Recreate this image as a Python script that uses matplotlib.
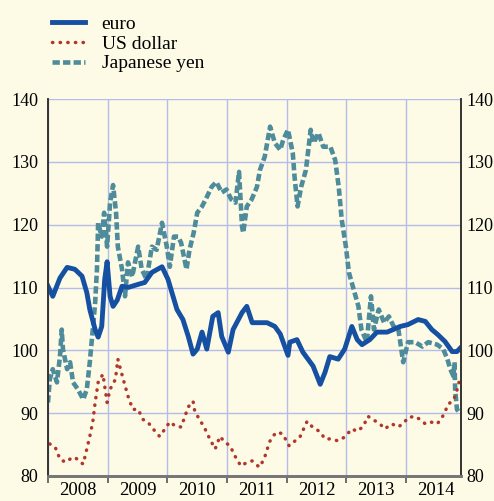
import matplotlib.pyplot as plt

# effective exchange rates, index
euro_t = [2008.00, 2008.08, 2008.20, 2008.32, 2008.45, 2008.57, 2008.65, 2008.70, 2008.79,
          2008.84, 2008.90, 2008.95, 2008.99, 2009.04, 2009.09, 2009.16, 2009.24, 2009.34,
          2009.51, 2009.62, 2009.74, 2009.91, 2010.01, 2010.16, 2010.26, 2010.35, 2010.43,
          2010.50, 2010.58, 2010.66, 2010.76, 2010.85, 2010.91, 2011.02, 2011.10, 2011.25,
          2011.33, 2011.42, 2011.52, 2011.67, 2011.80, 2011.89, 2012.02, 2012.05, 2012.17,
          2012.27, 2012.44, 2012.56, 2012.64, 2012.72, 2012.86, 2012.97, 2013.09, 2013.18,
          2013.26, 2013.39, 2013.51, 2013.68, 2013.78, 2013.90, 2014.03, 2014.20, 2014.32,
          2014.43, 2014.53, 2014.65, 2014.77, 2014.85, 2014.90]
euro_v = [110.2, 108.6, 111.5, 113.2, 112.9, 111.8, 109.2, 106.5, 103.3,
          102.1, 103.8, 111.3, 114.1, 108.6, 107.0, 108.0, 110.2, 110.0,
          110.5, 110.8, 112.4, 113.3, 111.3, 106.5, 104.9, 102.2, 99.4,
          100.2, 102.9, 100.2, 105.4, 106.0, 102.2, 99.7, 103.3, 106.0,
          107.0, 104.4, 104.4, 104.4, 103.8, 102.6, 99.2, 101.3, 101.7,
          99.7, 97.5, 94.6, 96.5, 99.0, 98.6, 100.2, 103.8, 101.7,
          100.9, 101.7, 102.9, 102.9, 103.3, 103.8, 104.1, 104.9, 104.6,
          103.3, 102.5, 101.4, 99.8, 99.8, 100.3]

usd_t = [2008.03, 2008.12, 2008.20, 2008.29, 2008.37, 2008.45, 2008.54, 2008.59, 2008.65,
         2008.70, 2008.75, 2008.79, 2008.84, 2008.92, 2008.99, 2009.04, 2009.13, 2009.17,
         2009.26, 2009.34, 2009.42, 2009.51, 2009.59, 2009.67, 2009.76, 2009.87, 2009.96,
         2010.04, 2010.14, 2010.23, 2010.35, 2010.43, 2010.46, 2010.54, 2010.63, 2010.71,
         2010.80, 2010.88, 2010.96, 2011.05, 2011.13, 2011.23, 2011.34, 2011.42, 2011.54,
         2011.62, 2011.71, 2011.76, 2011.84, 2011.93, 2012.04, 2012.14, 2012.22, 2012.34,
         2012.42, 2012.56, 2012.64, 2012.72, 2012.86, 2012.97, 2013.09, 2013.18, 2013.28,
         2013.36, 2013.44, 2013.56, 2013.64, 2013.76, 2013.86, 2013.95, 2014.03, 2014.15,
         2014.23, 2014.32, 2014.41, 2014.52, 2014.60, 2014.65, 2014.70, 2014.77, 2014.82,
         2014.87, 2014.90]
usd_v = [85.1, 84.6, 82.7, 82.2, 82.7, 83.0, 82.2, 81.9, 84.3,
         86.3, 88.6, 91.7, 94.9, 96.2, 91.7, 93.8, 95.4, 98.6,
         95.4, 92.7, 90.6, 90.6, 89.0, 88.6, 87.5, 86.3, 87.5,
         88.6, 87.9, 87.8, 91.0, 91.9, 90.2, 89.0, 87.5, 85.9,
         84.3, 86.3, 85.4, 84.8, 83.2, 81.6, 82.2, 82.4, 81.4,
         82.7, 85.4, 86.3, 87.0, 86.7, 84.8, 85.6, 86.2, 88.7,
         87.9, 87.0, 85.9, 85.9, 85.6, 86.2, 87.5, 87.1, 87.9,
         89.5, 89.0, 88.3, 87.5, 88.3, 87.8, 88.3, 89.3, 89.5,
         89.0, 88.3, 88.6, 88.3, 89.3, 90.2, 91.4, 91.9, 92.7,
         94.3, 95.6]

yen_t = [2008.00, 2008.03, 2008.08, 2008.15, 2008.20, 2008.23, 2008.25, 2008.32, 2008.37,
         2008.42, 2008.50, 2008.59, 2008.65, 2008.70, 2008.75, 2008.79, 2008.82, 2008.84,
         2008.90, 2008.94, 2008.99, 2009.04, 2009.09, 2009.14, 2009.17, 2009.24, 2009.29,
         2009.34, 2009.41, 2009.51, 2009.57, 2009.65, 2009.74, 2009.82, 2009.91, 2009.99,
         2010.04, 2010.11, 2010.18, 2010.23, 2010.32, 2010.37, 2010.44, 2010.50, 2010.58,
         2010.66, 2010.74, 2010.82, 2010.91, 2010.99, 2011.07, 2011.14, 2011.20, 2011.25,
         2011.27, 2011.33, 2011.41, 2011.50, 2011.55, 2011.63, 2011.72, 2011.80, 2011.89,
         2011.94, 2012.02, 2012.10, 2012.13, 2012.18, 2012.24, 2012.32, 2012.40, 2012.45,
         2012.53, 2012.61, 2012.73, 2012.81, 2012.87, 2012.92, 2012.99, 2013.04, 2013.12,
         2013.20, 2013.25, 2013.34, 2013.41, 2013.46, 2013.54, 2013.63, 2013.71, 2013.79,
         2013.87, 2013.95, 2014.03, 2014.15, 2014.27, 2014.37, 2014.52, 2014.62, 2014.69,
         2014.74, 2014.79, 2014.81, 2014.82, 2014.85, 2014.88]
yen_v = [91.7, 95.4, 97.0, 94.9, 99.0, 103.3, 100.2, 97.0, 98.1,
         94.9, 93.8, 92.2, 93.8, 98.1, 103.3, 107.6, 112.9, 120.3,
         118.1, 121.9, 116.5, 123.5, 126.3, 121.9, 116.5, 112.9, 108.6,
         114.0, 111.7, 116.5, 112.9, 111.3, 116.5, 116.0, 120.3, 116.5,
         113.3, 118.1, 118.1, 117.1, 112.9, 116.0, 118.7, 121.9, 122.9,
         124.4, 126.0, 126.8, 125.1, 125.6, 124.0, 123.5, 128.4, 119.7,
         118.7, 122.9, 124.0, 126.0, 128.7, 130.8, 135.6, 133.0, 131.9,
         133.5, 135.1, 131.4, 127.6, 122.9, 126.0, 128.7, 135.1, 133.0,
         134.6, 132.4, 132.4, 130.3, 126.0, 120.8, 116.5, 112.4, 109.7,
         107.0, 103.3, 101.3, 108.6, 103.3, 106.5, 104.4, 105.4, 103.8,
         103.3, 98.1, 101.3, 101.3, 100.6, 101.3, 100.9, 100.2, 98.6,
         97.0, 95.9, 98.1, 93.8, 90.6, 90.2]

years = [2008, 2009, 2010, 2011, 2012, 2013, 2014]
yticks = [80, 90, 100, 110, 120, 130, 140]

bg = '#fdfbe6'
plt.rcParams['font.family'] = ['Liberation Serif', 'DejaVu Serif']

fig = plt.figure(figsize=(4.94, 5.01), dpi=100, facecolor=bg)
ax = fig.add_axes([48 / 494, 1 - 476 / 501, 413 / 494, 377 / 501], facecolor=bg)

l1, = ax.plot(euro_t, euro_v, color='#1550a2', lw=3.5, solid_joinstyle='round', zorder=4)
l2, = ax.plot(usd_t, usd_v, color='#b0372c', lw=2.5, dashes=(0.1, 2.1),
              dash_capstyle='round', zorder=3)
l3, = ax.plot(yen_t, yen_v, color='#4e8b9b', lw=3.3, dashes=(1.6, 0.7), zorder=2)

ax.set_xlim(2008, 2014.918)
ax.set_ylim(80, 140)
ax.set_yticks(yticks)
ax.set_xticks(years[1:] + [2008])
ax.set_xticks([y + 0.5 for y in years], minor=True)
ax.set_xticklabels(years, minor=True)
ax.set_xticklabels([])
ax.grid(True, which='major', color='#b4bdea', lw=1.0)
ax.set_axisbelow(True)

ax.tick_params(axis='y', length=0, labelsize=13, pad=7)
ax.tick_params(axis='x', which='major', direction='out', length=5, width=1.2,
               color='#555555')
ax.tick_params(axis='x', which='minor', length=0, labelsize=13.5, pad=4)

# right-hand copy of the value axis
ax2 = ax.twinx()
ax2.set_ylim(80, 140)
ax2.set_yticks(yticks)
ax2.tick_params(axis='y', length=0, labelsize=13, pad=4)
for a in (ax, ax2):
    a.spines['top'].set_visible(False)
    for s in ('left', 'right'):
        a.spines[s].set_color('#333333')
        a.spines[s].set_linewidth(1.2)
    a.spines['bottom'].set_color('#777777')
    a.spines['bottom'].set_linewidth(2.0)

fig.legend([l1, l2, l3], ['euro', 'US dollar', 'Japanese yen'], loc='upper left',
           bbox_to_anchor=(0.07, 1.005), frameon=False, fontsize=14,
           handlelength=1.7, handletextpad=0.85, labelspacing=0.12)

fig.savefig('out.png', dpi=100, facecolor=bg)
